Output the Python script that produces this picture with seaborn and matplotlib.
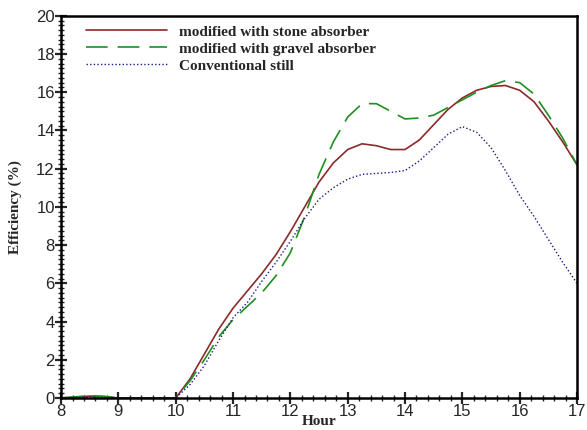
import numpy as np
import pandas as pd
import seaborn as sns
import matplotlib
matplotlib.use("Agg")
import matplotlib.pyplot as plt
from matplotlib.ticker import MultipleLocator

hours = [8, 8.25, 8.5, 8.75, 9, 9.5, 10, 10.25, 10.5, 10.75, 11, 11.25, 11.5, 11.75,
         12, 12.25, 12.5, 12.75, 13, 13.25, 13.5, 13.75, 14, 14.25, 14.5, 14.75,
         15, 15.25, 15.5, 15.75, 16, 16.25, 16.5, 16.75, 17]
stone = [0, 0.05, 0.1, 0.08, 0, 0, 0, 1.0, 2.3, 3.6, 4.7, 5.6, 6.5, 7.5,
         8.7, 10.0, 11.3, 12.3, 13.0, 13.3, 13.2, 13.0, 13.0, 13.5, 14.3, 15.1,
         15.7, 16.1, 16.3, 16.35, 16.1, 15.5, 14.5, 13.4, 12.2]
gravel = [0, 0.06, 0.12, 0.08, 0, 0, 0, 0.9, 2.0, 3.2, 4.1, 4.8, 5.5, 6.4,
          7.6, 9.5, 11.7, 13.4, 14.7, 15.4, 15.4, 15.0, 14.6, 14.65, 14.8, 15.2,
          15.6, 16.0, 16.35, 16.6, 16.5, 15.9, 14.8, 13.6, 12.2]
conventional = [0, 0.03, 0.05, 0.03, 0, 0, 0, 0.7, 1.7, 3.0, 4.2, 5.0, 6.1, 7.1,
                8.2, 9.4, 10.4, 11.0, 11.45, 11.7, 11.75, 11.8, 11.9, 12.4, 13.1, 13.8,
                14.2, 13.9, 13.1, 11.9, 10.6, 9.5, 8.3, 7.1, 6.0]
labels = ["modified with stone absorber", "modified with gravel absorber", "Conventional still"]
x_ticks = [8, 9, 10, 11, 12, 13, 14, 15, 16, 17]
y_ticks = [0, 2, 4, 6, 8, 10, 12, 14, 16, 18, 20]

df = pd.DataFrame({"Hour": hours * 3,
                   "Efficiency": stone + gravel + conventional,
                   "Series": [labels[0]] * len(hours) + [labels[1]] * len(hours) + [labels[2]] * len(hours)})

sns.set_style("white")
fig = plt.figure(figsize=(5.87, 4.30), dpi=100)
ax = fig.add_axes([0.104, 0.0744, 0.879, 0.889])

colors = {labels[0]: "#8b2a2a", labels[1]: "#1f8f1f", labels[2]: "#1a1a8c"}
styles = {labels[0]: (None, 1.2), labels[1]: ((0, (13, 6)), 1.2), labels[2]: ((0, (1, 1.6)), 1.0)}
for lab in labels:
    sub = df[df["Series"] == lab]
    ls, lw = styles[lab]
    kw = dict(linestyle=ls) if ls is not None else {}
    sns.lineplot(data=sub, x="Hour", y="Efficiency", ax=ax, color=colors[lab],
                 linewidth=lw, label=lab, **kw)

ax.set_xlim(8, 17)
ax.set_ylim(0, 20)
ax.set_xticks(x_ticks)
ax.set_yticks(y_ticks)
ax.xaxis.set_minor_locator(MultipleLocator(0.2))
ax.yaxis.set_minor_locator(MultipleLocator(0.25))
ax.tick_params(axis="both", which="major", direction="inout", length=9, width=1.6,
               labelsize=12, pad=0, top=False, right=False, bottom=True, left=True)
ax.tick_params(axis="both", which="minor", direction="inout", length=5, width=1.0,
               top=False, right=False, bottom=True, left=True)
for lbl in ax.get_xticklabels() + ax.get_yticklabels():
    lbl.set_family("Liberation Sans")
for s in ax.spines.values():
    s.set_visible(True)
    s.set_color("black")
    s.set_linewidth(1.8)

ax.set_xlabel("Hour", fontfamily="Liberation Serif", fontweight="bold", fontsize=11, labelpad=-3)
ax.set_ylabel("Efficiency (%)", fontfamily="Liberation Serif", fontweight="bold", fontsize=11, labelpad=10)

leg = ax.legend(loc="upper left", frameon=False, handlelength=5.3, handletextpad=0.8,
                labelspacing=0.22, borderaxespad=0.2, bbox_to_anchor=(0.03, 1.0),
                prop={"family": "Liberation Serif", "weight": "bold", "size": 11})

fig.savefig("out.png", dpi=100)
